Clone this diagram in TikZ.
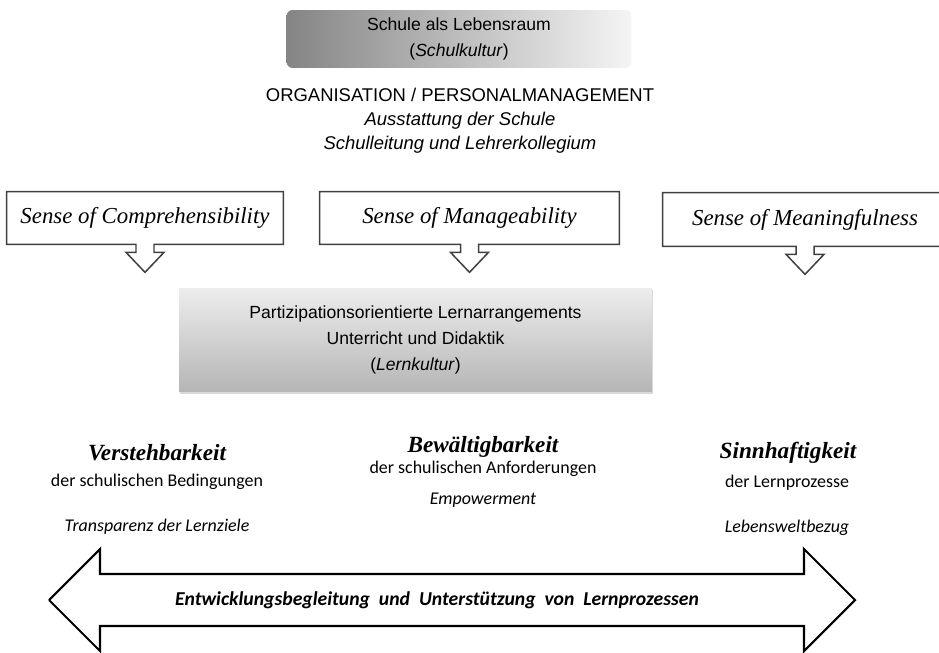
\documentclass[tikz,border=0pt]{standalone}
\usepackage{fontspec}
\setmainfont{Liberation Sans}
\newfontfamily\carlito{Carlito}
\newfontfamily\senseface{Liberation Serif}
\usepackage{xcolor}
\usepackage{tikz}
\usetikzlibrary{math,calc,shadows,backgrounds}

\tikzset{
	sense/.style={inner sep=0pt,minimum height=1.04cm,font=\senseface\itshape\fontsize{13}{15}\selectfont},
	callout/.style={draw=black!75,line width=0.85pt,fill=white,line join=miter},
	quality/.style={font=\senseface\bfseries\itshape\fontsize{13.2}{15}\selectfont},
	dim/.style={font=\carlito\fontsize{10.2}{12}\selectfont},
	bigarrow/.style={draw=black,line width=1.2pt,fill=white,line join=miter},
}

\begin{document}
\begin{tikzpicture}[x=0.02cm,y=-0.02cm]
\useasboundingbox (0,0) rectangle (939,652);
\tikzmath{
	\sw = 9;\ww = 19;\sd = 8;\td = 28;
	\lx = 49;\rx = 855;\hl = 51;\ay = 600;\ah = 51;\sh = 26;
	%
	{\node[rounded corners=3.5pt,left color=black!48,right color=black!4,inner sep=0pt,minimum width=6.9cm,minimum height=1.16cm,align=center,font=\fontsize{10}{14.7}\selectfont] (schule) at (459,39) {Schule als Lebensraum\\(\textit{Schulkultur})};};
	{\node[align=center,font=\fontsize{10.5}{13.6}\selectfont] (orga) at (460,121) {ORGANISATION / PERSONALMANAGEMENT\\\textit{Ausstattung der Schule}\\\textit{Schulleitung und Lehrerkollegium}};};
	%
	{\node[sense,minimum width=5.52cm] (comp) at (145,218) {Sense of Comprehensibility};};
	{\node[sense,minimum width=5.98cm] (manage) at (469.5,218) {Sense of Manageability};};
	{\node[sense,minimum width=5.68cm,minimum height=1.06cm] (mean) at (805,219.5) {Sense of Meaningfulness};};
	%
	{\node[top color=black!7,bottom color=black!29,drop shadow={shadow xshift=0.8pt,shadow yshift=-1.2pt,opacity=0.3},inner sep=0pt,minimum width=9.46cm,minimum height=2.08cm,align=center,font=\fontsize{10}{14.7}\selectfont] (lern) at (415.5,340) {Partizipationsorientierte Lernarrangements\\Unterricht und Didaktik\\(\textit{Lernkultur})};};
	%
	{\node[quality] (verst) at (157,453) {Verstehbarkeit};};
	{\node[dim] (bedg) at (157,482) {der schulischen Bedingungen};};
	{\node[dim,font=\carlito\itshape\fontsize{10.2}{12}\selectfont] (transp) at (157,527) {Transparenz der Lernziele};};
	{\node[quality] (bewael) at (483,447) {Bewältigbarkeit};};
	{\node[dim] (anford) at (483,469) {der schulischen Anforderungen};};
	{\node[dim,font=\carlito\itshape\fontsize{10.2}{12}\selectfont] (empow) at (483,500) {Empowerment};};
	{\node[quality] (sinn) at (788,453) {Sinnhaftigkeit};};
	{\node[dim] (lernpr) at (787,483) {der Lernprozesse};};
	{\node[dim,font=\carlito\itshape\fontsize{10.2}{12}\selectfont] (lebw) at (787,528) {Lebensweltbezug};};
	%
	{\draw[bigarrow] plot[] coordinates {(\lx,\ay) (\lx+\hl,\ay-\ah) (\lx+\hl,\ay-\sh) (\rx-\hl,\ay-\sh) (\rx-\hl,\ay-\ah) (\rx,\ay) (\rx-\hl,\ay+\ah) (\rx-\hl,\ay+\sh) (\lx+\hl,\ay+\sh) (\lx+\hl,\ay+\ah) (\lx,\ay)};};
	{\node[font=\carlito\bfseries\itshape\fontsize{11.2}{13}\selectfont] (entw) at (437,600) {Entwicklungsbegleitung\ \ und\ \ Unterstützung\ \ von\ \ Lernprozessen};};
};
\begin{scope}[on background layer]
\foreach \n in {comp,manage,mean}{
	\draw[callout] (\n.south east) -- ($(\n.south)+(\sw,0)$) -- ++(0,\sd) -- ++(\ww-\sw,0) -- ++(-\ww,\td-\sd) -- ++(-\ww,\sd-\td) -- ++(\ww-\sw,0) -- ++(0,-\sd) -- (\n.south west) -- (\n.north west) -- (\n.north east) -- cycle;
}
\end{scope}
\end{tikzpicture}
\end{document}
